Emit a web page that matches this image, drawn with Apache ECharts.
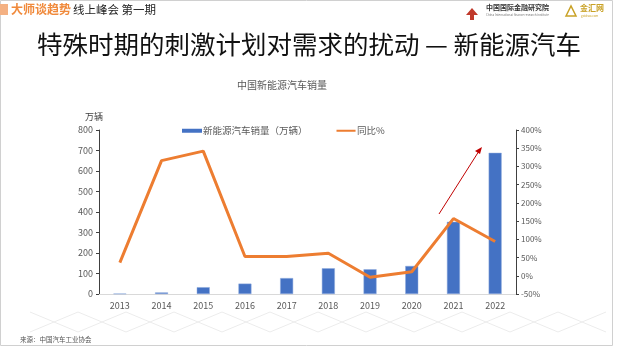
<!DOCTYPE html>
<html><head><meta charset="utf-8">
<script src="https://cdn.jsdelivr.net/npm/echarts@6/dist/echarts.min.js"></script>
<style>html,body{margin:0;padding:0;background:#fff}#c{width:618px;height:346px}</style>
</head><body><div id="c"></div>
<script>
var years = ['2013','2014','2015','2016','2017','2018','2019','2020','2021','2022'];
var sales = [1.8, 7.5, 33.1, 50.7, 77.7, 125.6, 120.6, 136.7, 352.1, 688.7];
var yoy = [36, 316, 342, 53, 53, 62, -4, 11, 157, 94];
var leftTicks = [0,100,200,300,400,500,600,700,800];
var rightTicks = [-50,0,50,100,150,200,250,300,350,400];

var F = '"Noto Sans CJK SC","Noto Sans",sans-serif';
var chart = echarts.init(document.getElementById('c'));

// watermark zigzags (decoration)
var zz1 = [], zz2 = [];
for (var x = 30, i = 0; x <= 606; x += 48, i++) {
  zz1.push([x, i % 2 ? 332 : 312]);
  zz2.push([x, i % 2 ? 312 : 332]);
}

chart.setOption({
  animation: false,
  textStyle: {fontFamily: F},
  title: [
    {text: '特殊时期的刺激计划对需求的扰动 — 新能源汽车', left: 'center', top: 27,
     textStyle: {fontSize: 25.5, fontWeight: 'normal', color: '#111', fontFamily: F}},
    {text: '中国新能源汽车销量', left: 232, top: 75,
     textStyle: {fontSize: 10, fontWeight: 'normal', color: '#595959', fontFamily: F}}
  ],
  legend: {
    top: 126, left: 182, padding: 0, itemGap: 29, itemWidth: 20, itemHeight: 4,
    textStyle: {fontSize: 9.5, color: '#595959', fontFamily: F, padding: [0,0,0,-4]},
    data: [{name: '新能源汽车销量（万辆）', icon: 'rect', itemStyle: {color: '#4472C4', borderWidth: 0}},
           {name: '同比%', icon: 'path://M0,0L20,0L20,0.01L0,0.01Z M0,1.1L20,1.1L20,3.1L0,3.1Z M0,4.19L20,4.19L20,4.2L0,4.2Z', itemStyle: {color: '#ED7D31'}}]
  },
  grid: {left: 99, right: 102, top: 130, bottom: 52},
  xAxis: {
    type: 'category', data: years, boundaryGap: true,
    axisLine: {lineStyle: {color: '#d9d9d9', width: 1}},
    axisTick: {show: false},
    axisLabel: {fontSize: 9, color: '#595959', margin: 7}
  },
  yAxis: [
    {type: 'value', min: 0, max: 800, interval: 100, name: '万辆',
     nameTextStyle: {fontSize: 9, color: '#404040', align: 'right', padding: [0, -4, 0, 0]},
     nameGap: 9,
     axisLine: {show: true, lineStyle: {color: '#404040', width: 1}},
     axisTick: {show: true, length: 3, lineStyle: {color: '#404040'}},
     axisLabel: {fontSize: 9, color: '#595959', margin: 6},
     splitLine: {show: false}},
    {type: 'value', min: -50, max: 400, interval: 50, position: 'right',
     axisLine: {show: true, lineStyle: {color: '#404040', width: 1}},
     axisTick: {show: true, length: 3, lineStyle: {color: '#404040'}},
     axisLabel: {fontSize: 8, color: '#595959', margin: 5, formatter: '{value}%'},
     splitLine: {show: false}}
  ],
  series: [
    {name: '新能源汽车销量（万辆）', type: 'bar', data: sales, barWidth: 13,
     itemStyle: {color: '#4472C4', borderColor: '#8FAADC', borderWidth: 0.5}},
    {name: '同比%', type: 'line', yAxisIndex: 1, data: yoy, symbol: 'none',
     lineStyle: {color: '#ED7D31', width: 3}, itemStyle: {color: '#ED7D31'}}
  ],
  graphic: [
    {type: 'rect', shape: {x: 0.5, y: 0.5, width: 612, height: 345}, style: {fill: 'none', stroke: '#d0d0d0', lineWidth: 1}, silent: true},
    {type: 'rect', shape: {x: 0, y: 4, width: 8, height: 11}, style: {fill: '#F4B183'}},
    {type: 'text', left: 11, top: 3, style: {text: '大师谈趋势', fill: '#F08A3C', font: 'bold 12px ' + F}},
    {type: 'text', left: 73, top: 3.5, style: {text: '线上峰会 第一期', fill: '#222', font: '11.5px ' + F}},
    // logos
    {type: 'polygon', shape: {points: [[472,8],[466,15],[470,15],[470,20],[474,20],[474,15],[478,15]]}, style: {fill: '#C0392B'}},
    {type: 'text', left: 486, top: 4, style: {text: '中国国际金融研究院', fill: '#333', font: 'bold 7px ' + F}},
    {type: 'text', left: 486, top: 13, style: {text: 'China International finance research institute', fill: '#777', font: '3px ' + F}},
    {type: 'polygon', shape: {points: [[566,16],[571,6],[576,16]]}, style: {fill: 'none', stroke: '#C9A227', lineWidth: 1.5}},
    {type: 'text', left: 580, top: 4, style: {text: '金汇网', fill: '#C9A227', font: 'bold 8px ' + F}},
    {type: 'text', left: 581, top: 14, style: {text: 'goldsxx.com', fill: '#C9A227', font: '3px ' + F}},
    // watermark
    {type: 'polyline', shape: {points: zz1}, style: {stroke: '#ececec', lineWidth: 1, fill: 'none'}, silent: true},
    {type: 'polyline', shape: {points: zz2}, style: {stroke: '#ececec', lineWidth: 1, fill: 'none'}, silent: true},
    // arrow
    {type: 'line', shape: {x1: 439, y1: 214, x2: 479, y2: 151}, style: {stroke: '#C00000', lineWidth: 1}},
    {type: 'polygon', shape: {points: [[482,147],[475,151],[480,154]]}, style: {fill: '#C00000'}},
    {type: 'text', left: 20, top: 336, style: {text: '来源：中国汽车工业协会', fill: '#555', font: '6.5px ' + F}}
  ]
});
</script></body></html>
